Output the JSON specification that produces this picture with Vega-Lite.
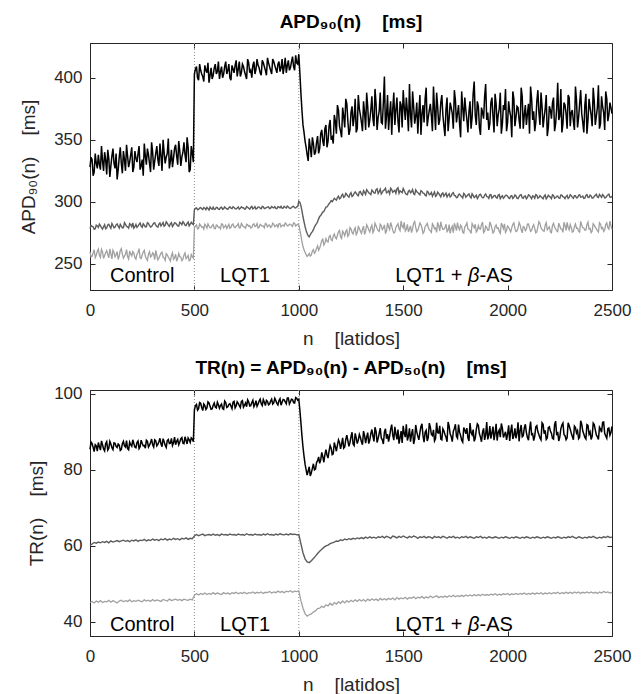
{
"$schema":"https://vega.github.io/schema/vega-lite/v6.json",
"padding":{"left":19,"top":12,"right":5,"bottom":0},
"background":"white",
"spacing":9,
"config":{
"font":"Liberation Sans",
"view":{"stroke":"#262626","strokeWidth":1},
"axis":{"grid":false,"tickSize":-5,"tickColor":"#262626","domainColor":"#262626","labelColor":"#262626","titleColor":"#262626","labelFontSize":17,"titleFontSize":19,"titleFontWeight":"normal","labelFont":"Liberation Sans","titleFont":"Liberation Sans","tickWidth":1,"domainWidth":1},
"title":{"fontSize":19,"fontWeight":"bold","color":"#000000","font":"Liberation Sans","frame":"group","anchor":"middle"}
},
"datasets":{"s":[
{"n":0,"a":328,"b":278.6,"c":259.8,"d":85.4,"e":60.1,"f":45.1},
{"n":10,"a":334,"b":280.3,"c":256.2,"d":86.9,"e":60.5,"f":45.4},
{"n":20,"a":324,"b":277.9,"c":261.4,"d":84.8,"e":60.9,"f":45.0},
{"n":30,"a":331,"b":281.2,"c":257.0,"d":86.3,"e":60.7,"f":45.5},
{"n":40,"a":338,"b":279.4,"c":262.0,"d":87.2,"e":61.0,"f":45.2},
{"n":50,"a":326,"b":280.8,"c":255.3,"d":85.2,"e":60.8,"f":45.6},
{"n":60,"a":333,"b":278.1,"c":259.6,"d":86.6,"e":61.1,"f":45.1},
{"n":70,"a":340,"b":281.6,"c":256.8,"d":85.0,"e":60.9,"f":45.4},
{"n":80,"a":322,"b":279.0,"c":260.7,"d":87.4,"e":61.2,"f":45.3},
{"n":90,"a":335,"b":282.0,"c":254.9,"d":85.7,"e":60.8,"f":45.7},
{"n":100,"a":329,"b":278.7,"c":258.3,"d":86.8,"e":61.3,"f":45.2},
{"n":110,"a":343,"b":281.0,"c":261.1,"d":85.3,"e":61.0,"f":45.6},
{"n":120,"a":327,"b":279.6,"c":255.7,"d":87.0,"e":61.2,"f":45.3},
{"n":130,"a":318,"b":282.3,"c":259.9,"d":85.9,"e":61.4,"f":45.0},
{"n":140,"a":336,"b":278.9,"c":256.4,"d":86.5,"e":61.1,"f":45.5},
{"n":150,"a":331,"b":280.5,"c":262.3,"d":85.4,"e":61.3,"f":45.7},
{"n":160,"a":341,"b":279.2,"c":254.6,"d":87.5,"e":61.5,"f":45.3},
{"n":170,"a":325,"b":281.8,"c":258.0,"d":86.0,"e":61.2,"f":45.6},
{"n":180,"a":337,"b":279.9,"c":255.9,"d":85.6,"e":61.4,"f":45.4},
{"n":190,"a":332,"b":282.5,"c":260.4,"d":87.3,"e":61.1,"f":45.8},
{"n":200,"a":344,"b":280.1,"c":256.5,"d":86.2,"e":61.5,"f":45.3},
{"n":210,"a":328,"b":278.8,"c":258.8,"d":86.9,"e":61.3,"f":45.6},
{"n":220,"a":335,"b":281.9,"c":253.8,"d":85.8,"e":61.6,"f":45.4},
{"n":230,"a":339,"b":280.4,"c":259.2,"d":87.6,"e":61.2,"f":45.7},
{"n":240,"a":326,"b":283.0,"c":255.1,"d":86.1,"e":61.5,"f":45.5},
{"n":250,"a":334,"b":279.5,"c":257.4,"d":87.0,"e":61.4,"f":45.3},
{"n":260,"a":347,"b":281.3,"c":261.0,"d":86.4,"e":61.7,"f":45.8},
{"n":270,"a":330,"b":280.0,"c":254.2,"d":87.8,"e":61.3,"f":45.5},
{"n":280,"a":338,"b":282.7,"c":257.9,"d":86.0,"e":61.6,"f":45.7},
{"n":290,"a":324,"b":279.7,"c":255.6,"d":87.2,"e":61.4,"f":45.4},
{"n":300,"a":340,"b":281.5,"c":259.0,"d":86.6,"e":61.8,"f":45.9},
{"n":310,"a":333,"b":283.1,"c":253.5,"d":87.9,"e":61.5,"f":45.5},
{"n":320,"a":345,"b":280.2,"c":256.9,"d":86.3,"e":61.7,"f":45.8},
{"n":330,"a":329,"b":282.0,"c":254.7,"d":87.4,"e":61.4,"f":45.6},
{"n":340,"a":337,"b":280.6,"c":258.6,"d":86.8,"e":61.8,"f":45.4},
{"n":350,"a":350,"b":283.4,"c":255.4,"d":88.2,"e":61.6,"f":45.9},
{"n":360,"a":331,"b":281.1,"c":252.9,"d":86.5,"e":61.9,"f":45.7},
{"n":370,"a":339,"b":282.8,"c":257.3,"d":87.7,"e":61.5,"f":45.5},
{"n":380,"a":327,"b":280.3,"c":254.0,"d":86.9,"e":61.8,"f":46.0},
{"n":390,"a":342,"b":283.2,"c":256.6,"d":88.3,"e":61.6,"f":45.6},
{"n":400,"a":335,"b":281.4,"c":253.7,"d":87.1,"e":62.0,"f":45.8},
{"n":410,"a":346,"b":282.9,"c":257.8,"d":86.6,"e":61.7,"f":46.0},
{"n":420,"a":330,"b":280.7,"c":254.5,"d":88.0,"e":61.9,"f":45.7},
{"n":430,"a":341,"b":283.6,"c":256.0,"d":87.3,"e":61.6,"f":45.9},
{"n":440,"a":336,"b":281.6,"c":252.6,"d":88.5,"e":62.0,"f":45.6},
{"n":450,"a":348,"b":283.0,"c":257.1,"d":86.9,"e":61.8,"f":46.0},
{"n":460,"a":332,"b":280.9,"c":254.3,"d":87.8,"e":62.1,"f":45.8},
{"n":470,"a":344,"b":283.8,"c":256.8,"d":88.4,"e":61.7,"f":45.7},
{"n":480,"a":326,"b":282.1,"c":253.2,"d":87.2,"e":62.0,"f":46.0},
{"n":490,"a":339,"b":282.4,"c":255.8,"d":88.1,"e":61.9,"f":45.8},
{"n":500,"a":403,"b":293.6,"c":279.1,"d":95.8,"e":62.6,"f":47.0},
{"n":510,"a":409,"b":295.2,"c":281.5,"d":97.2,"e":63.0,"f":47.4},
{"n":520,"a":398,"b":294.0,"c":278.6,"d":96.1,"e":62.7,"f":47.1},
{"n":530,"a":406,"b":295.4,"c":281.0,"d":97.5,"e":62.9,"f":47.5},
{"n":540,"a":401,"b":293.8,"c":279.9,"d":95.6,"e":63.1,"f":47.2},
{"n":550,"a":410,"b":294.9,"c":282.0,"d":96.9,"e":62.7,"f":47.6},
{"n":560,"a":404,"b":295.6,"c":278.9,"d":96.3,"e":62.9,"f":47.2},
{"n":570,"a":396,"b":293.5,"c":280.6,"d":97.6,"e":63.0,"f":47.5},
{"n":580,"a":408,"b":294.7,"c":279.3,"d":95.9,"e":62.8,"f":47.3},
{"n":590,"a":402,"b":295.8,"c":281.8,"d":97.0,"e":63.1,"f":47.7},
{"n":600,"a":411,"b":294.2,"c":278.4,"d":96.5,"e":62.8,"f":47.3},
{"n":610,"a":405,"b":295.3,"c":280.9,"d":97.8,"e":63.0,"f":47.6},
{"n":620,"a":399,"b":293.9,"c":279.6,"d":96.2,"e":62.7,"f":47.4},
{"n":630,"a":409,"b":295.7,"c":282.2,"d":97.3,"e":63.1,"f":47.2},
{"n":640,"a":403,"b":294.5,"c":279.0,"d":95.9,"e":62.9,"f":47.7},
{"n":650,"a":413,"b":295.1,"c":281.2,"d":97.7,"e":63.0,"f":47.4},
{"n":660,"a":406,"b":294.0,"c":280.2,"d":96.6,"e":62.8,"f":47.6},
{"n":670,"a":400,"b":296.0,"c":278.7,"d":97.4,"e":63.1,"f":47.3},
{"n":680,"a":410,"b":294.6,"c":281.6,"d":96.1,"e":62.9,"f":47.7},
{"n":690,"a":404,"b":295.5,"c":279.8,"d":98.0,"e":63.0,"f":47.5},
{"n":700,"a":414,"b":294.3,"c":280.5,"d":96.8,"e":62.8,"f":47.8},
{"n":710,"a":407,"b":295.9,"c":282.4,"d":97.5,"e":63.1,"f":47.4},
{"n":720,"a":401,"b":294.8,"c":279.2,"d":96.4,"e":62.9,"f":47.7},
{"n":730,"a":411,"b":295.2,"c":281.3,"d":98.2,"e":63.0,"f":47.5},
{"n":740,"a":405,"b":294.1,"c":279.7,"d":97.0,"e":62.8,"f":47.8},
{"n":750,"a":399,"b":296.2,"c":282.0,"d":96.6,"e":63.2,"f":47.4},
{"n":760,"a":412,"b":294.9,"c":280.3,"d":97.9,"e":62.9,"f":47.7},
{"n":770,"a":406,"b":295.6,"c":278.9,"d":96.9,"e":63.0,"f":47.6},
{"n":780,"a":410,"b":294.4,"c":281.7,"d":98.3,"e":62.8,"f":47.9},
{"n":790,"a":403,"b":296.1,"c":280.1,"d":97.2,"e":63.1,"f":47.5},
{"n":800,"a":415,"b":294.7,"c":282.5,"d":96.7,"e":62.9,"f":47.8},
{"n":810,"a":408,"b":295.8,"c":279.5,"d":98.1,"e":63.0,"f":47.6},
{"n":820,"a":402,"b":294.5,"c":281.1,"d":97.4,"e":62.8,"f":47.9},
{"n":830,"a":412,"b":296.0,"c":280.6,"d":98.5,"e":63.1,"f":47.5},
{"n":840,"a":406,"b":295.0,"c":282.7,"d":96.9,"e":62.9,"f":47.8},
{"n":850,"a":416,"b":295.7,"c":279.9,"d":98.0,"e":63.2,"f":47.7},
{"n":860,"a":409,"b":294.6,"c":281.4,"d":97.3,"e":62.9,"f":48.0},
{"n":870,"a":403,"b":296.3,"c":280.0,"d":98.6,"e":63.0,"f":47.6},
{"n":880,"a":413,"b":295.2,"c":282.1,"d":97.6,"e":62.8,"f":47.9},
{"n":890,"a":407,"b":294.8,"c":280.8,"d":98.2,"e":63.1,"f":47.7},
{"n":900,"a":411,"b":296.1,"c":279.6,"d":97.1,"e":62.9,"f":48.1},
{"n":910,"a":405,"b":295.3,"c":282.6,"d":98.7,"e":63.2,"f":47.8},
{"n":920,"a":415,"b":294.9,"c":281.0,"d":97.8,"e":63.0,"f":48.0},
{"n":930,"a":409,"b":296.4,"c":280.4,"d":98.4,"e":62.9,"f":47.7},
{"n":940,"a":404,"b":295.1,"c":282.3,"d":97.4,"e":63.1,"f":48.1},
{"n":950,"a":414,"b":295.9,"c":280.9,"d":98.9,"e":62.9,"f":47.9},
{"n":960,"a":408,"b":294.7,"c":281.8,"d":97.9,"e":63.2,"f":48.2},
{"n":970,"a":417,"b":296.2,"c":280.2,"d":98.5,"e":63.0,"f":47.8},
{"n":980,"a":406,"b":295.4,"c":282.8,"d":97.6,"e":63.1,"f":48.1},
{"n":990,"a":412,"b":296.0,"c":281.3,"d":98.8,"e":62.9,"f":48.0},
{"n":1000,"a":419,"b":300.5,"c":281.5,"d":98.6,"e":63.0,"f":48.2},
{"n":1010,"a":388,"b":297.0,"c":273.0,"d":92.5,"e":60.6,"f":45.6},
{"n":1020,"a":362,"b":288.0,"c":264.0,"d":86.0,"e":58.2,"f":43.6},
{"n":1030,"a":349,"b":280.0,"c":259.5,"d":81.5,"e":56.6,"f":42.2},
{"n":1040,"a":338,"b":274.5,"c":256.0,"d":78.6,"e":55.8,"f":41.5},
{"n":1050,"a":351,"b":271.8,"c":258.4,"d":80.8,"e":55.6,"f":41.9},
{"n":1060,"a":336,"b":275.0,"c":257.2,"d":79.2,"e":56.1,"f":42.1},
{"n":1070,"a":347,"b":277.6,"c":261.5,"d":81.6,"e":56.7,"f":42.6},
{"n":1080,"a":340,"b":281.3,"c":259.8,"d":80.2,"e":57.3,"f":42.9},
{"n":1090,"a":353,"b":284.0,"c":264.6,"d":82.4,"e":58.0,"f":43.5},
{"n":1100,"a":343,"b":288.2,"c":262.9,"d":81.7,"e":58.6,"f":43.6},
{"n":1110,"a":358,"b":290.5,"c":268.9,"d":84.6,"e":59.1,"f":44.1},
{"n":1120,"a":345,"b":292.3,"c":265.2,"d":82.0,"e":59.6,"f":43.8},
{"n":1130,"a":362,"b":295.8,"c":270.4,"d":85.3,"e":60.0,"f":44.5},
{"n":1140,"a":349,"b":297.1,"c":267.6,"d":83.1,"e":60.2,"f":44.2},
{"n":1150,"a":366,"b":299.6,"c":273.0,"d":86.4,"e":60.6,"f":44.9},
{"n":1160,"a":352,"b":300.2,"c":268.8,"d":84.0,"e":60.8,"f":44.4},
{"n":1170,"a":370,"b":302.9,"c":274.2,"d":87.2,"e":61.0,"f":45.1},
{"n":1180,"a":355,"b":301.4,"c":270.3,"d":84.9,"e":61.3,"f":44.7},
{"n":1190,"a":374,"b":304.6,"c":275.8,"d":87.9,"e":61.2,"f":45.3},
{"n":1200,"a":357,"b":303.0,"c":271.9,"d":85.5,"e":61.6,"f":44.9},
{"n":1210,"a":376,"b":306.1,"c":276.4,"d":88.4,"e":61.4,"f":45.5},
{"n":1220,"a":360,"b":304.2,"c":272.7,"d":86.0,"e":61.8,"f":45.0},
{"n":1230,"a":379,"b":305.9,"c":277.5,"d":89.1,"e":61.6,"f":45.6},
{"n":1240,"a":354,"b":303.7,"c":273.6,"d":86.2,"e":61.9,"f":45.2},
{"n":1250,"a":372,"b":307.4,"c":278.3,"d":88.7,"e":61.7,"f":45.7},
{"n":1260,"a":361,"b":305.1,"c":274.1,"d":86.8,"e":62.0,"f":45.3},
{"n":1270,"a":383,"b":308.0,"c":279.2,"d":89.6,"e":61.8,"f":45.8},
{"n":1280,"a":359,"b":305.6,"c":275.0,"d":86.9,"e":62.1,"f":45.4},
{"n":1290,"a":375,"b":307.9,"c":278.8,"d":89.3,"e":61.9,"f":45.9},
{"n":1300,"a":364,"b":306.3,"c":274.6,"d":87.4,"e":62.2,"f":45.5},
{"n":1310,"a":381,"b":309.1,"c":280.4,"d":90.2,"e":61.9,"f":45.9},
{"n":1320,"a":358,"b":306.0,"c":276.3,"d":87.0,"e":62.3,"f":45.4},
{"n":1330,"a":377,"b":308.6,"c":279.9,"d":89.8,"e":62.0,"f":46.0},
{"n":1340,"a":366,"b":306.7,"c":275.7,"d":87.8,"e":62.4,"f":45.6},
{"n":1350,"a":385,"b":309.5,"c":281.2,"d":90.6,"e":62.1,"f":46.1},
{"n":1360,"a":361,"b":307.2,"c":277.1,"d":87.5,"e":62.3,"f":45.7},
{"n":1370,"a":379,"b":309.9,"c":280.7,"d":90.1,"e":62.0,"f":46.0},
{"n":1380,"a":368,"b":306.8,"c":276.8,"d":88.3,"e":62.4,"f":45.6},
{"n":1390,"a":388,"b":310.2,"c":282.0,"d":91.0,"e":62.2,"f":46.2},
{"n":1400,"a":363,"b":307.7,"c":277.6,"d":87.9,"e":62.5,"f":45.8},
{"n":1410,"a":401,"b":309.6,"c":281.5,"d":89.9,"e":62.1,"f":46.1},
{"n":1420,"a":369,"b":307.3,"c":276.2,"d":88.2,"e":62.5,"f":45.8},
{"n":1430,"a":358,"b":308.9,"c":279.8,"d":87.4,"e":62.3,"f":46.2},
{"n":1440,"a":381,"b":311.0,"c":283.4,"d":90.7,"e":62.0,"f":45.9},
{"n":1450,"a":375,"b":307.8,"c":277.0,"d":89.1,"e":62.6,"f":46.3},
{"n":1460,"a":362,"b":309.4,"c":275.6,"d":91.3,"e":62.4,"f":45.8},
{"n":1470,"a":384,"b":310.5,"c":281.1,"d":88.0,"e":62.1,"f":46.4},
{"n":1480,"a":356,"b":306.9,"c":278.4,"d":86.9,"e":62.5,"f":46.0},
{"n":1490,"a":378,"b":308.2,"c":284.6,"d":90.2,"e":62.2,"f":46.3},
{"n":1500,"a":390,"b":310.8,"c":279.0,"d":91.6,"e":62.6,"f":46.1},
{"n":1510,"a":366,"b":307.0,"c":276.5,"d":88.6,"e":62.3,"f":46.5},
{"n":1520,"a":373,"b":305.9,"c":281.9,"d":87.7,"e":62.1,"f":46.0},
{"n":1530,"a":395,"b":309.3,"c":278.1,"d":90.9,"e":62.5,"f":46.4},
{"n":1540,"a":360,"b":308.1,"c":275.3,"d":89.4,"e":62.2,"f":46.2},
{"n":1550,"a":377,"b":306.4,"c":282.8,"d":86.8,"e":62.6,"f":46.6},
{"n":1560,"a":369,"b":309.7,"c":279.4,"d":91.8,"e":62.4,"f":46.1},
{"n":1570,"a":355,"b":307.6,"c":277.2,"d":88.9,"e":62.0,"f":46.5},
{"n":1580,"a":386,"b":305.6,"c":283.0,"d":89.8,"e":62.4,"f":46.3},
{"n":1590,"a":371,"b":308.4,"c":278.9,"d":92.1,"e":62.2,"f":46.7},
{"n":1600,"a":364,"b":306.8,"c":275.9,"d":87.3,"e":62.5,"f":46.2},
{"n":1610,"a":392,"b":304.9,"c":281.3,"d":90.4,"e":62.1,"f":46.6},
{"n":1620,"a":368,"b":307.9,"c":279.6,"d":88.5,"e":62.4,"f":46.3},
{"n":1630,"a":379,"b":306.2,"c":276.7,"d":91.2,"e":62.3,"f":46.8},
{"n":1640,"a":357,"b":304.5,"c":282.4,"d":89.0,"e":62.0,"f":46.4},
{"n":1650,"a":374,"b":308.0,"c":278.3,"d":87.6,"e":62.5,"f":46.6},
{"n":1660,"a":388,"b":305.3,"c":275.4,"d":92.4,"e":62.2,"f":46.9},
{"n":1670,"a":362,"b":306.9,"c":280.8,"d":89.7,"e":62.4,"f":46.4},
{"n":1680,"a":380,"b":304.1,"c":284.0,"d":88.1,"e":62.1,"f":46.7},
{"n":1690,"a":370,"b":307.2,"c":277.8,"d":90.8,"e":62.5,"f":46.5},
{"n":1700,"a":353,"b":305.8,"c":279.2,"d":89.3,"e":62.3,"f":46.8},
{"n":1710,"a":384,"b":303.9,"c":276.0,"d":87.4,"e":62.0,"f":46.5},
{"n":1720,"a":367,"b":306.6,"c":281.7,"d":91.5,"e":62.4,"f":46.9},
{"n":1730,"a":376,"b":304.8,"c":278.6,"d":88.8,"e":62.2,"f":46.6},
{"n":1740,"a":359,"b":307.5,"c":275.1,"d":90.1,"e":62.5,"f":47.0},
{"n":1750,"a":382,"b":305.0,"c":280.3,"d":92.0,"e":62.1,"f":46.6},
{"n":1760,"a":371,"b":303.6,"c":283.3,"d":88.3,"e":62.3,"f":46.9},
{"n":1770,"a":363,"b":306.3,"c":277.4,"d":89.9,"e":62.0,"f":46.7},
{"n":1780,"a":389,"b":304.4,"c":279.9,"d":87.8,"e":62.4,"f":47.0},
{"n":1790,"a":365,"b":306.9,"c":274.8,"d":91.1,"e":62.2,"f":46.7},
{"n":1800,"a":374,"b":303.8,"c":281.0,"d":89.5,"e":62.5,"f":47.1},
{"n":1810,"a":356,"b":305.7,"c":278.2,"d":88.4,"e":62.1,"f":46.8},
{"n":1820,"a":381,"b":304.2,"c":276.6,"d":92.3,"e":62.4,"f":47.1},
{"n":1830,"a":368,"b":306.5,"c":282.5,"d":89.2,"e":62.2,"f":46.8},
{"n":1840,"a":397,"b":303.5,"c":279.1,"d":87.5,"e":62.0,"f":47.2},
{"n":1850,"a":362,"b":305.4,"c":275.7,"d":90.6,"e":62.4,"f":46.9},
{"n":1860,"a":377,"b":304.0,"c":280.9,"d":91.7,"e":62.2,"f":47.2},
{"n":1870,"a":354,"b":306.2,"c":278.0,"d":88.6,"e":62.5,"f":46.9},
{"n":1880,"a":372,"b":303.3,"c":283.8,"d":89.9,"e":62.1,"f":47.3},
{"n":1890,"a":385,"b":305.5,"c":276.4,"d":87.9,"e":62.3,"f":47.0},
{"n":1900,"a":366,"b":304.3,"c":279.5,"d":92.6,"e":62.0,"f":47.2},
{"n":1910,"a":358,"b":302.8,"c":277.3,"d":89.1,"e":62.4,"f":47.0},
{"n":1920,"a":380,"b":305.8,"c":281.6,"d":88.2,"e":62.2,"f":47.3},
{"n":1930,"a":369,"b":303.9,"c":274.9,"d":91.4,"e":62.1,"f":47.1},
{"n":1940,"a":387,"b":305.1,"c":280.0,"d":89.6,"e":62.4,"f":47.4},
{"n":1950,"a":361,"b":303.0,"c":278.7,"d":87.7,"e":62.2,"f":47.0},
{"n":1960,"a":375,"b":305.9,"c":276.2,"d":90.5,"e":62.0,"f":47.3},
{"n":1970,"a":355,"b":304.1,"c":282.9,"d":92.2,"e":62.3,"f":47.1},
{"n":1980,"a":378,"b":302.9,"c":278.4,"d":88.5,"e":62.1,"f":47.4},
{"n":1990,"a":391,"b":305.2,"c":275.5,"d":90.0,"e":62.4,"f":47.2},
{"n":2000,"a":364,"b":304.6,"c":280.6,"d":89.4,"e":62.2,"f":47.5},
{"n":2010,"a":373,"b":302.7,"c":277.6,"d":87.6,"e":62.0,"f":47.1},
{"n":2020,"a":352,"b":305.0,"c":279.3,"d":91.9,"e":62.3,"f":47.4},
{"n":2030,"a":383,"b":303.6,"c":283.1,"d":89.0,"e":62.1,"f":47.2},
{"n":2040,"a":368,"b":304.8,"c":276.1,"d":88.3,"e":62.4,"f":47.5},
{"n":2050,"a":376,"b":302.6,"c":278.9,"d":92.5,"e":62.2,"f":47.2},
{"n":2060,"a":359,"b":305.4,"c":281.4,"d":90.3,"e":62.0,"f":47.5},
{"n":2070,"a":385,"b":303.4,"c":275.0,"d":88.7,"e":62.3,"f":47.3},
{"n":2080,"a":370,"b":304.5,"c":279.7,"d":91.0,"e":62.1,"f":47.6},
{"n":2090,"a":362,"b":302.4,"c":277.9,"d":89.8,"e":62.4,"f":47.2},
{"n":2100,"a":379,"b":305.7,"c":282.2,"d":87.8,"e":62.2,"f":47.5},
{"n":2110,"a":393,"b":303.8,"c":276.3,"d":92.7,"e":62.0,"f":47.3},
{"n":2120,"a":366,"b":304.9,"c":280.2,"d":89.5,"e":62.3,"f":47.6},
{"n":2130,"a":357,"b":302.9,"c":278.5,"d":88.9,"e":62.1,"f":47.3},
{"n":2140,"a":381,"b":305.3,"c":275.8,"d":91.6,"e":62.4,"f":47.6},
{"n":2150,"a":372,"b":303.5,"c":284.1,"d":89.2,"e":62.2,"f":47.4},
{"n":2160,"a":388,"b":304.2,"c":279.0,"d":87.9,"e":62.0,"f":47.7},
{"n":2170,"a":360,"b":302.5,"c":276.8,"d":92.0,"e":62.3,"f":47.3},
{"n":2180,"a":375,"b":305.6,"c":281.3,"d":90.4,"e":62.1,"f":47.6},
{"n":2190,"a":353,"b":303.7,"c":277.5,"d":88.4,"e":62.4,"f":47.4},
{"n":2200,"a":377,"b":304.4,"c":279.8,"d":91.3,"e":62.2,"f":47.7},
{"n":2210,"a":367,"b":302.6,"c":275.2,"d":89.6,"e":62.0,"f":47.4},
{"n":2220,"a":384,"b":305.1,"c":282.7,"d":88.1,"e":62.3,"f":47.7},
{"n":2230,"a":363,"b":303.3,"c":278.3,"d":92.8,"e":62.1,"f":47.5},
{"n":2240,"a":396,"b":304.7,"c":276.0,"d":90.0,"e":62.4,"f":47.8},
{"n":2250,"a":369,"b":302.8,"c":280.5,"d":88.6,"e":62.2,"f":47.4},
{"n":2260,"a":356,"b":305.5,"c":278.1,"d":91.8,"e":62.0,"f":47.7},
{"n":2270,"a":380,"b":303.9,"c":283.6,"d":89.3,"e":62.3,"f":47.5},
{"n":2280,"a":371,"b":304.3,"c":277.0,"d":87.9,"e":62.1,"f":47.8},
{"n":2290,"a":386,"b":302.7,"c":279.4,"d":92.4,"e":62.4,"f":47.5},
{"n":2300,"a":361,"b":305.8,"c":281.8,"d":90.7,"e":62.2,"f":47.8},
{"n":2310,"a":374,"b":303.6,"c":275.6,"d":88.8,"e":62.5,"f":47.5},
{"n":2320,"a":358,"b":304.9,"c":280.0,"d":91.5,"e":62.2,"f":47.9},
{"n":2330,"a":382,"b":303.1,"c":278.7,"d":89.7,"e":62.0,"f":47.6},
{"n":2340,"a":368,"b":305.4,"c":276.4,"d":88.2,"e":62.4,"f":47.9},
{"n":2350,"a":390,"b":303.8,"c":284.3,"d":92.9,"e":62.2,"f":47.5},
{"n":2360,"a":364,"b":304.6,"c":279.2,"d":90.2,"e":62.0,"f":47.8},
{"n":2370,"a":378,"b":302.9,"c":277.1,"d":88.5,"e":62.3,"f":47.6},
{"n":2380,"a":355,"b":305.9,"c":281.9,"d":91.9,"e":62.1,"f":47.9},
{"n":2390,"a":383,"b":303.5,"c":278.0,"d":89.4,"e":62.4,"f":47.6},
{"n":2400,"a":370,"b":304.8,"c":275.3,"d":88.0,"e":62.2,"f":47.9},
{"n":2410,"a":392,"b":303.2,"c":282.4,"d":92.3,"e":62.5,"f":47.6},
{"n":2420,"a":362,"b":305.3,"c":279.6,"d":90.5,"e":62.2,"f":47.8},
{"n":2430,"a":376,"b":304.0,"c":276.9,"d":88.7,"e":62.0,"f":47.5},
{"n":2440,"a":359,"b":306.0,"c":283.2,"d":91.2,"e":62.3,"f":47.9},
{"n":2450,"a":385,"b":303.7,"c":278.5,"d":89.9,"e":62.1,"f":47.6},
{"n":2460,"a":372,"b":305.0,"c":276.2,"d":92.6,"e":62.4,"f":48.0},
{"n":2470,"a":389,"b":303.4,"c":281.7,"d":88.9,"e":62.2,"f":47.7},
{"n":2480,"a":365,"b":305.6,"c":279.1,"d":90.8,"e":62.5,"f":47.9},
{"n":2490,"a":380,"b":303.9,"c":284.5,"d":89.1,"e":62.2,"f":47.6},
{"n":2500,"a":371,"b":304.6,"c":277.8,"d":91.4,"e":62.3,"f":47.8},
{"n":5,"a":336,"b":281.0,"c":255.8,"d":87.3},
{"n":15,"a":321,"b":279.9,"c":258.9,"d":85.9},
{"n":25,"a":339,"b":278.4,"c":255.1,"d":86.6},
{"n":35,"a":327,"b":280.6,"c":260.3,"d":84.9},
{"n":45,"a":330,"b":282.1,"c":256.9,"d":86.1},
{"n":55,"a":345,"b":279.3,"c":261.7,"d":87.6},
{"n":65,"a":325,"b":280.0,"c":254.4,"d":85.5},
{"n":75,"a":334,"b":278.3,"c":259.0,"d":86.9},
{"n":85,"a":342,"b":281.4,"c":257.6,"d":85.2},
{"n":95,"a":320,"b":280.2,"c":262.2,"d":87.5},
{"n":105,"a":337,"b":282.6,"c":254.1,"d":85.8},
{"n":115,"a":331,"b":279.1,"c":259.3,"d":87.1},
{"n":125,"a":339,"b":281.5,"c":257.4,"d":86.2},
{"n":135,"a":326,"b":280.4,"c":253.6,"d":86.8},
{"n":145,"a":344,"b":281.9,"c":260.8,"d":85.1},
{"n":155,"a":323,"b":279.0,"c":257.9,"d":86.9},
{"n":165,"a":334,"b":283.2,"c":256.2,"d":86.3},
{"n":175,"a":346,"b":280.2,"c":261.6,"d":87.7},
{"n":185,"a":328,"b":278.8,"c":253.9,"d":85.3},
{"n":195,"a":338,"b":281.7,"c":258.1,"d":86.6},
{"n":205,"a":324,"b":283.0,"c":260.0,"d":87.9},
{"n":215,"a":341,"b":280.0,"c":255.0,"d":86.0},
{"n":225,"a":332,"b":279.4,"c":257.9,"d":87.2},
{"n":235,"a":345,"b":281.8,"c":262.4,"d":85.6},
{"n":245,"a":329,"b":280.5,"c":254.3,"d":87.8},
{"n":255,"a":321,"b":282.4,"c":259.6,"d":86.3},
{"n":265,"a":337,"b":279.8,"c":256.3,"d":85.7},
{"n":275,"a":343,"b":283.3,"c":252.8,"d":87.5},
{"n":285,"a":331,"b":281.0,"c":259.9,"d":86.5},
{"n":295,"a":348,"b":280.1,"c":256.4,"d":88.1},
{"n":305,"a":326,"b":282.9,"c":258.0,"d":86.0},
{"n":315,"a":339,"b":281.2,"c":261.0,"d":87.6},
{"n":325,"a":334,"b":279.6,"c":253.3,"d":86.7},
{"n":335,"a":347,"b":283.0,"c":256.8,"d":88.3},
{"n":345,"a":325,"b":281.9,"c":259.4,"d":86.1},
{"n":355,"a":340,"b":280.4,"c":254.9,"d":87.4},
{"n":365,"a":336,"b":283.9,"c":258.2,"d":85.9},
{"n":375,"a":351,"b":281.3,"c":255.6,"d":88.0},
{"n":385,"a":333,"b":282.3,"c":252.4,"d":87.0},
{"n":395,"a":328,"b":280.1,"c":258.9,"d":86.4},
{"n":405,"a":343,"b":283.1,"c":255.0,"d":88.6},
{"n":415,"a":337,"b":281.8,"c":252.2,"d":87.5},
{"n":425,"a":349,"b":280.5,"c":258.4,"d":86.6},
{"n":435,"a":329,"b":282.9,"c":255.5,"d":88.2},
{"n":445,"a":340,"b":284.0,"c":253.9,"d":87.0},
{"n":455,"a":338,"b":281.2,"c":258.9,"d":88.7},
{"n":465,"a":352,"b":282.7,"c":255.2,"d":86.8},
{"n":475,"a":324,"b":280.6,"c":252.5,"d":87.9},
{"n":485,"a":345,"b":283.5,"c":257.5,"d":88.4},
{"n":495,"a":332,"b":281.7,"c":254.8,"d":87.4},
{"n":505,"a":407,"b":294.8,"c":280.4,"d":96.9},
{"n":515,"a":400,"b":293.7,"c":278.2,"d":95.7},
{"n":525,"a":411,"b":295.0,"c":282.1,"d":97.7},
{"n":535,"a":403,"b":294.4,"c":279.6,"d":96.4},
{"n":545,"a":397,"b":295.5,"c":278.0,"d":97.3},
{"n":555,"a":406,"b":293.8,"c":280.7,"d":95.9},
{"n":565,"a":412,"b":294.6,"c":282.3,"d":97.9},
{"n":575,"a":402,"b":295.9,"c":279.1,"d":96.7},
{"n":585,"a":399,"b":294.1,"c":280.9,"d":96.0},
{"n":595,"a":408,"b":293.9,"c":278.6,"d":97.6},
{"n":605,"a":403,"b":295.6,"c":281.4,"d":96.3},
{"n":615,"a":413,"b":294.2,"c":279.4,"d":97.1},
{"n":625,"a":405,"b":295.4,"c":278.3,"d":96.9},
{"n":635,"a":400,"b":294.0,"c":281.9,"d":96.1},
{"n":645,"a":409,"b":295.9,"c":280.0,"d":98.1},
{"n":655,"a":403,"b":294.3,"c":278.5,"d":96.4},
{"n":665,"a":411,"b":295.3,"c":281.9,"d":97.2},
{"n":675,"a":398,"b":294.9,"c":279.5,"d":96.8},
{"n":685,"a":407,"b":296.1,"c":282.2,"d":97.8},
{"n":695,"a":410,"b":294.5,"c":279.3,"d":96.3},
{"n":705,"a":401,"b":295.1,"c":281.0,"d":97.9},
{"n":715,"a":413,"b":294.1,"c":279.0,"d":96.9},
{"n":725,"a":404,"b":296.0,"c":282.6,"d":98.0},
{"n":735,"a":409,"b":295.3,"c":280.0,"d":96.5},
{"n":745,"a":402,"b":294.4,"c":278.8,"d":97.6},
{"n":755,"a":415,"b":295.7,"c":281.5,"d":98.4},
{"n":765,"a":404,"b":294.2,"c":280.8,"d":96.8},
{"n":775,"a":400,"b":296.3,"c":279.3,"d":97.7},
{"n":785,"a":413,"b":295.0,"c":282.3,"d":96.6},
{"n":795,"a":407,"b":294.3,"c":280.6,"d":98.2},
{"n":805,"a":410,"b":295.9,"c":278.9,"d":97.3},
{"n":815,"a":404,"b":294.9,"c":281.9,"d":98.6},
{"n":825,"a":414,"b":296.4,"c":280.3,"d":96.9},
{"n":835,"a":409,"b":294.6,"c":279.2,"d":97.8},
{"n":845,"a":402,"b":295.4,"c":282.0,"d":98.3},
{"n":855,"a":412,"b":296.0,"c":281.1,"d":97.1},
{"n":865,"a":406,"b":294.9,"c":279.4,"d":98.1},
{"n":875,"a":415,"b":295.6,"c":282.9,"d":97.3},
{"n":885,"a":410,"b":296.2,"c":280.1,"d":98.8},
{"n":895,"a":404,"b":294.5,"c":281.6,"d":97.5},
{"n":905,"a":413,"b":295.8,"c":282.4,"d":98.2},
{"n":915,"a":408,"b":296.5,"c":279.9,"d":97.0},
{"n":925,"a":403,"b":295.0,"c":281.3,"d":98.5},
{"n":935,"a":416,"b":295.7,"c":283.0,"d":97.9},
{"n":945,"a":410,"b":296.6,"c":280.6,"d":98.9},
{"n":955,"a":406,"b":294.9,"c":282.0,"d":97.3},
{"n":965,"a":413,"b":295.5,"c":281.2,"d":98.6},
{"n":975,"a":409,"b":296.4,"c":283.1,"d":97.7},
{"n":985,"a":418,"b":295.1,"c":280.5,"d":99.0},
{"n":995,"a":411,"b":296.3,"c":282.0,"d":98.3},
{"n":1005,"a":404,"b":299.6,"c":277.5,"d":95.8},
{"n":1015,"a":374,"b":293.0,"c":268.0,"d":89.0},
{"n":1025,"a":356,"b":284.0,"c":261.5,"d":83.6},
{"n":1035,"a":344,"b":277.0,"c":257.5,"d":80.0},
{"n":1045,"a":333,"b":272.6,"c":257.0,"d":79.7},
{"n":1055,"a":344,"b":273.5,"c":256.3,"d":78.4},
{"n":1065,"a":352,"b":276.0,"c":260.4,"d":80.4},
{"n":1075,"a":338,"b":279.8,"c":258.6,"d":80.0},
{"n":1085,"a":348,"b":282.5,"c":262.5,"d":81.9},
{"n":1095,"a":339,"b":286.3,"c":261.0,"d":83.4},
{"n":1105,"a":355,"b":289.0,"c":265.6,"d":82.6},
{"n":1115,"a":349,"b":291.8,"c":270.0,"d":83.5},
{"n":1125,"a":359,"b":294.1,"c":266.8,"d":84.0},
{"n":1135,"a":344,"b":296.0,"c":268.2,"d":83.9},
{"n":1145,"a":361,"b":298.5,"c":271.9,"d":85.0},
{"n":1155,"a":350,"b":301.0,"c":269.4,"d":85.7},
{"n":1165,"a":347,"b":301.5,"c":272.6,"d":84.2},
{"n":1175,"a":365,"b":302.1,"c":271.4,"d":86.1},
{"n":1185,"a":378,"b":303.5,"c":273.1,"d":86.5},
{"n":1195,"a":361,"b":302.4,"c":277.0,"d":87.2},
{"n":1205,"a":352,"b":305.0,"c":270.6,"d":86.8},
{"n":1215,"a":369,"b":303.6,"c":274.9,"d":85.7},
{"n":1225,"a":383,"b":306.8,"c":276.1,"d":88.0},
{"n":1235,"a":365,"b":304.6,"c":272.2,"d":87.6},
{"n":1245,"a":358,"b":306.1,"c":279.3,"d":87.2},
{"n":1255,"a":377,"b":304.3,"c":275.4,"d":89.9},
{"n":1265,"a":368,"b":306.9,"c":277.4,"d":86.4},
{"n":1275,"a":356,"b":307.0,"c":273.5,"d":88.4},
{"n":1285,"a":386,"b":304.9,"c":280.1,"d":87.8},
{"n":1295,"a":370,"b":308.4,"c":276.3,"d":88.5},
{"n":1305,"a":357,"b":305.5,"c":278.0,"d":86.6},
{"n":1315,"a":372,"b":307.6,"c":273.7,"d":89.0},
{"n":1325,"a":388,"b":309.8,"c":281.5,"d":88.6},
{"n":1335,"a":360,"b":307.3,"c":277.6,"d":86.9},
{"n":1345,"a":374,"b":305.9,"c":279.2,"d":89.5},
{"n":1355,"a":367,"b":308.5,"c":275.2,"d":88.9},
{"n":1365,"a":391,"b":307.0,"c":282.8,"d":91.2},
{"n":1375,"a":358,"b":310.6,"c":278.6,"d":87.2},
{"n":1385,"a":373,"b":308.3,"c":276.1,"d":89.6},
{"n":1395,"a":364,"b":306.4,"c":280.9,"d":88.4},
{"n":1405,"a":380,"b":309.2,"c":278.9,"d":86.8},
{"n":1415,"a":359,"b":310.9,"c":275.0,"d":90.8},
{"n":1425,"a":386,"b":308.0,"c":283.0,"d":89.4},
{"n":1435,"a":371,"b":306.5,"c":277.7,"d":88.9},
{"n":1445,"a":354,"b":309.8,"c":280.4,"d":91.9},
{"n":1455,"a":388,"b":308.6,"c":274.9,"d":87.8},
{"n":1465,"a":374,"b":306.9,"c":279.6,"d":89.5},
{"n":1475,"a":365,"b":311.4,"c":282.4,"d":90.6},
{"n":1485,"a":381,"b":308.9,"c":276.9,"d":88.5},
{"n":1495,"a":360,"b":307.4,"c":280.3,"d":87.1},
{"n":1505,"a":376,"b":309.1,"c":283.5,"d":89.6},
{"n":1515,"a":384,"b":306.1,"c":277.9,"d":92.0},
{"n":1525,"a":357,"b":308.6,"c":275.8,"d":88.8},
{"n":1535,"a":370,"b":307.3,"c":280.6,"d":87.4},
{"n":1545,"a":389,"b":309.9,"c":278.2,"d":90.7},
{"n":1555,"a":363,"b":305.8,"c":284.2,"d":88.1},
{"n":1565,"a":380,"b":308.2,"c":276.0,"d":90.0},
{"n":1575,"a":372,"b":306.5,"c":279.9,"d":87.9},
{"n":1585,"a":354,"b":309.0,"c":281.6,"d":91.4},
{"n":1595,"a":378,"b":307.1,"c":274.6,"d":88.9},
{"n":1605,"a":383,"b":305.4,"c":280.0,"d":89.9},
{"n":1615,"a":361,"b":308.6,"c":282.7,"d":87.6},
{"n":1625,"a":374,"b":305.7,"c":277.4,"d":92.3},
{"n":1635,"a":369,"b":307.6,"c":275.5,"d":89.3},
{"n":1645,"a":393,"b":306.3,"c":281.0,"d":90.5},
{"n":1655,"a":358,"b":304.4,"c":279.0,"d":88.2},
{"n":1665,"a":377,"b":307.8,"c":283.5,"d":89.8},
{"n":1675,"a":366,"b":305.5,"c":276.5,"d":91.6},
{"n":1685,"a":386,"b":306.6,"c":280.1,"d":87.9},
{"n":1695,"a":361,"b":304.6,"c":278.0,"d":90.2},
{"n":1705,"a":375,"b":307.0,"c":282.0,"d":88.6},
{"n":1715,"a":357,"b":305.4,"c":277.0,"d":92.6},
{"n":1725,"a":380,"b":304.0,"c":274.6,"d":89.4},
{"n":1735,"a":371,"b":306.8,"c":280.4,"d":87.4},
{"n":1745,"a":390,"b":305.1,"c":282.8,"d":90.9},
{"n":1755,"a":364,"b":303.4,"c":276.8,"d":88.8},
{"n":1765,"a":378,"b":306.0,"c":279.1,"d":91.9},
{"n":1775,"a":352,"b":304.9,"c":281.2,"d":89.0},
{"n":1785,"a":376,"b":303.1,"c":275.6,"d":87.3},
{"n":1795,"a":384,"b":306.1,"c":279.8,"d":90.5},
{"n":1805,"a":366,"b":304.7,"c":283.1,"d":91.0},
{"n":1815,"a":373,"b":306.4,"c":277.6,"d":87.6},
{"n":1825,"a":359,"b":303.2,"c":274.5,"d":89.8},
{"n":1835,"a":387,"b":305.2,"c":280.7,"d":90.6},
{"n":1845,"a":370,"b":304.4,"c":282.0,"d":88.3},
{"n":1855,"a":381,"b":302.7,"c":276.9,"d":92.1},
{"n":1865,"a":360,"b":305.8,"c":278.4,"d":89.5},
{"n":1875,"a":376,"b":304.5,"c":281.8,"d":87.4},
{"n":1885,"a":367,"b":303.4,"c":275.3,"d":90.9},
{"n":1895,"a":395,"b":306.3,"c":280.5,"d":89.2},
{"n":1905,"a":372,"b":304.0,"c":277.2,"d":88.0},
{"n":1915,"a":363,"b":305.6,"c":283.9,"d":91.5},
{"n":1925,"a":384,"b":303.0,"c":278.4,"d":89.7},
{"n":1935,"a":356,"b":305.0,"c":276.0,"d":87.8},
{"n":1945,"a":379,"b":303.6,"c":281.3,"d":92.1},
{"n":1955,"a":370,"b":305.5,"c":279.0,"d":89.9},
{"n":1965,"a":388,"b":302.6,"c":274.7,"d":88.6},
{"n":1975,"a":363,"b":304.9,"c":280.9,"d":91.0},
{"n":1985,"a":374,"b":303.8,"c":282.3,"d":89.3},
{"n":1995,"a":357,"b":305.3,"c":277.1,"d":87.9},
{"n":2005,"a":381,"b":303.2,"c":279.5,"d":91.7},
{"n":2015,"a":369,"b":304.7,"c":275.8,"d":90.1},
{"n":2025,"a":389,"b":302.8,"c":281.9,"d":88.1},
{"n":2035,"a":361,"b":305.6,"c":278.6,"d":90.9},
{"n":2045,"a":377,"b":303.0,"c":276.5,"d":89.6},
{"n":2055,"a":366,"b":304.2,"c":283.4,"d":87.5},
{"n":2065,"a":392,"b":305.8,"c":277.7,"d":91.8},
{"n":2075,"a":359,"b":302.9,"c":280.2,"d":89.0},
{"n":2085,"a":378,"b":304.8,"c":276.7,"d":92.0},
{"n":2095,"a":371,"b":303.5,"c":282.1,"d":88.5},
{"n":2105,"a":355,"b":305.2,"c":279.1,"d":90.6},
{"n":2115,"a":383,"b":302.5,"c":277.0,"d":89.3},
{"n":2125,"a":373,"b":304.3,"c":281.6,"d":87.7},
{"n":2135,"a":364,"b":305.9,"c":275.1,"d":91.3},
{"n":2145,"a":390,"b":303.0,"c":279.9,"d":90.0},
{"n":2155,"a":362,"b":305.0,"c":282.6,"d":88.4},
{"n":2165,"a":377,"b":303.3,"c":277.8,"d":92.4},
{"n":2175,"a":368,"b":304.6,"c":276.3,"d":89.5},
{"n":2185,"a":386,"b":302.4,"c":283.3,"d":88.0},
{"n":2195,"a":360,"b":305.4,"c":278.8,"d":91.1},
{"n":2205,"a":374,"b":303.9,"c":275.9,"d":90.2},
{"n":2215,"a":380,"b":305.7,"c":281.0,"d":88.3},
{"n":2225,"a":357,"b":302.9,"c":279.7,"d":91.9},
{"n":2235,"a":375,"b":304.5,"c":276.6,"d":89.1},
{"n":2245,"a":366,"b":303.1,"c":282.9,"d":87.6},
{"n":2255,"a":391,"b":305.6,"c":278.2,"d":90.8},
{"n":2265,"a":363,"b":304.1,"c":275.4,"d":92.3},
{"n":2275,"a":378,"b":302.6,"c":280.8,"d":89.0},
{"n":2285,"a":359,"b":305.3,"c":283.5,"d":88.4},
{"n":2295,"a":384,"b":303.6,"c":277.5,"d":91.6},
{"n":2305,"a":372,"b":305.0,"c":279.3,"d":89.6},
{"n":2315,"a":365,"b":302.8,"c":276.2,"d":87.9},
{"n":2325,"a":393,"b":304.9,"c":282.2,"d":91.1},
{"n":2335,"a":360,"b":303.3,"c":278.9,"d":90.3},
{"n":2345,"a":379,"b":305.8,"c":275.6,"d":88.6},
{"n":2355,"a":371,"b":304.0,"c":281.4,"d":92.0},
{"n":2365,"a":356,"b":302.7,"c":279.0,"d":89.4},
{"n":2375,"a":387,"b":305.2,"c":277.3,"d":88.1},
{"n":2385,"a":366,"b":303.7,"c":283.7,"d":91.7},
{"n":2395,"a":376,"b":305.5,"c":278.6,"d":90.0},
{"n":2405,"a":361,"b":303.0,"c":276.6,"d":88.8},
{"n":2415,"a":381,"b":304.4,"c":281.2,"d":91.9},
{"n":2425,"a":369,"b":306.1,"c":278.3,"d":89.2},
{"n":2435,"a":394,"b":303.5,"c":275.7,"d":88.0},
{"n":2445,"a":363,"b":304.8,"c":282.0,"d":90.7},
{"n":2455,"a":377,"b":305.9,"c":279.4,"d":92.5},
{"n":2465,"a":358,"b":303.2,"c":277.4,"d":89.6},
{"n":2475,"a":383,"b":304.6,"c":283.0,"d":88.3},
{"n":2485,"a":370,"b":306.2,"c":278.0,"d":91.0},
{"n":2495,"a":376,"b":303.8,"c":280.9,"d":89.8}
]},
"resolve":{"scale":{"x":"independent","y":"independent","color":"independent","strokeWidth":"independent"}},
"vconcat":[
{
"width":522,"height":247,
"title":{"text":"APD₉₀(n)\u00a0\u00a0\u00a0\u00a0[ms]","offset":11},
"layer":[
{"data":{"values":[{"n":500},{"n":1000}]},
 "mark":{"type":"rule","strokeDash":[1,2],"color":"#8c8c8c","strokeWidth":1},
 "encoding":{"x":{"field":"n","type":"quantitative","axis":{"orient":"top","labels":false,"domain":false,"title":null,"values":[0,500,1000,1500,2000,2500]}}}},
{"data":{"name":"s"},
 "transform":[{"fold":["a","b","c"],"as":["k","v"]},{"filter":"isValid(datum.v)"}],
 "mark":{"type":"line"},
 "encoding":{
  "x":{"field":"n","type":"quantitative","scale":{"domain":[0,2500],"nice":false},"axis":{"title":"n\u00a0\u00a0\u00a0\u00a0[latidos]","values":[0,500,1000,1500,2000,2500],"format":"d","labelFlush":false,"labelPadding":17,"titlePadding":11}},
  "y":{"field":"v","type":"quantitative","scale":{"domain":[229,428],"nice":false,"zero":false},"axis":{"title":"APD₉₀(n)\u00a0\u00a0\u00a0\u00a0[ms]","values":[250,300,350,400],"labelPadding":13,"titlePadding":15}},
  "color":{"field":"k","type":"nominal","scale":{"domain":["a","b","c"],"range":["#000000","#5c5c5c","#a0a0a0"]},"legend":null},
  "strokeWidth":{"field":"k","type":"nominal","scale":{"domain":["a","b","c"],"range":[1.5,1.3,1.2]},"legend":null}}},
{"data":{"values":[{"n":250,"v":235.2,"t":"Control"},{"n":743,"v":235.2,"t":"LQT1"}]},
 "mark":{"type":"text","fontSize":20,"baseline":"alphabetic","align":"center","color":"#000000","font":"Liberation Sans"},
 "encoding":{"x":{"field":"n","type":"quantitative","axis":null},"y":{"field":"v","type":"quantitative","axis":{"orient":"right","labels":false,"domain":false,"title":null,"values":[250,300,350,400]}},"text":{"field":"t"}}},
{"data":{"values":[{"n":1743,"v":235.2,"t":"LQT1 +"}]},
 "mark":{"type":"text","fontSize":20,"baseline":"alphabetic","align":"right","dx":8.5,"color":"#000000","font":"Liberation Sans"},
 "encoding":{"x":{"field":"n","type":"quantitative","axis":null},"y":{"field":"v","type":"quantitative","axis":null},"text":{"field":"t"}}},
{"data":{"values":[{"n":1743,"v":235.2,"t":"β"}]},
 "mark":{"type":"text","fontSize":20,"baseline":"alphabetic","align":"center","dx":19.8,"fontStyle":"italic","color":"#000000","font":"Liberation Sans"},
 "encoding":{"x":{"field":"n","type":"quantitative","axis":null},"y":{"field":"v","type":"quantitative","axis":null},"text":{"field":"t"}}},
{"data":{"values":[{"n":1743,"v":235.2,"t":"-AS"}]},
 "mark":{"type":"text","fontSize":20,"baseline":"alphabetic","align":"left","dx":25.6,"color":"#000000","font":"Liberation Sans"},
 "encoding":{"x":{"field":"n","type":"quantitative","axis":null},"y":{"field":"v","type":"quantitative","axis":null},"text":{"field":"t"}}}
],
"resolve":{"axis":{"x":"independent","y":"independent"}}
},
{
"width":522,"height":246,
"title":{"text":"TR(n) = APD₉₀(n) - APD₅₀(n)\u00a0\u00a0\u00a0\u00a0[ms]","offset":7},
"layer":[
{"data":{"values":[{"n":500},{"n":1000}]},
 "mark":{"type":"rule","strokeDash":[1,2],"color":"#8c8c8c","strokeWidth":1},
 "encoding":{"x":{"field":"n","type":"quantitative","axis":{"orient":"top","labels":false,"domain":false,"title":null,"values":[0,500,1000,1500,2000,2500]}}}},
{"data":{"name":"s"},
 "transform":[{"fold":["d","e","f"],"as":["k","v"]},{"filter":"isValid(datum.v)"}],
 "mark":{"type":"line"},
 "encoding":{
  "x":{"field":"n","type":"quantitative","scale":{"domain":[0,2500],"nice":false},"axis":{"title":"n\u00a0\u00a0\u00a0\u00a0[latidos]","values":[0,500,1000,1500,2000,2500],"format":"d","labelFlush":false,"labelPadding":17,"titlePadding":11}},
  "y":{"field":"v","type":"quantitative","scale":{"domain":[36.3,101],"nice":false,"zero":false},"axis":{"title":"TR(n)\u00a0\u00a0\u00a0\u00a0[ms]","values":[40,60,80,100],"labelPadding":13,"titlePadding":7}},
  "color":{"field":"k","type":"nominal","scale":{"domain":["d","e","f"],"range":["#000000","#5c5c5c","#a0a0a0"]},"legend":null},
  "strokeWidth":{"field":"k","type":"nominal","scale":{"domain":["d","e","f"],"range":[1.5,1.3,1.2]},"legend":null}}},
{"data":{"values":[{"n":250,"v":37.7,"t":"Control"},{"n":743,"v":37.7,"t":"LQT1"}]},
 "mark":{"type":"text","fontSize":20,"baseline":"alphabetic","align":"center","color":"#000000","font":"Liberation Sans"},
 "encoding":{"x":{"field":"n","type":"quantitative","axis":null},"y":{"field":"v","type":"quantitative","axis":{"orient":"right","labels":false,"domain":false,"title":null,"values":[40,60,80,100]}},"text":{"field":"t"}}},
{"data":{"values":[{"n":1743,"v":37.7,"t":"LQT1 +"}]},
 "mark":{"type":"text","fontSize":20,"baseline":"alphabetic","align":"right","dx":8.5,"color":"#000000","font":"Liberation Sans"},
 "encoding":{"x":{"field":"n","type":"quantitative","axis":null},"y":{"field":"v","type":"quantitative","axis":null},"text":{"field":"t"}}},
{"data":{"values":[{"n":1743,"v":37.7,"t":"β"}]},
 "mark":{"type":"text","fontSize":20,"baseline":"alphabetic","align":"center","dx":19.8,"fontStyle":"italic","color":"#000000","font":"Liberation Sans"},
 "encoding":{"x":{"field":"n","type":"quantitative","axis":null},"y":{"field":"v","type":"quantitative","axis":null},"text":{"field":"t"}}},
{"data":{"values":[{"n":1743,"v":37.7,"t":"-AS"}]},
 "mark":{"type":"text","fontSize":20,"baseline":"alphabetic","align":"left","dx":25.6,"color":"#000000","font":"Liberation Sans"},
 "encoding":{"x":{"field":"n","type":"quantitative","axis":null},"y":{"field":"v","type":"quantitative","axis":null},"text":{"field":"t"}}}
],
"resolve":{"axis":{"x":"independent","y":"independent"}}
}
]
}
